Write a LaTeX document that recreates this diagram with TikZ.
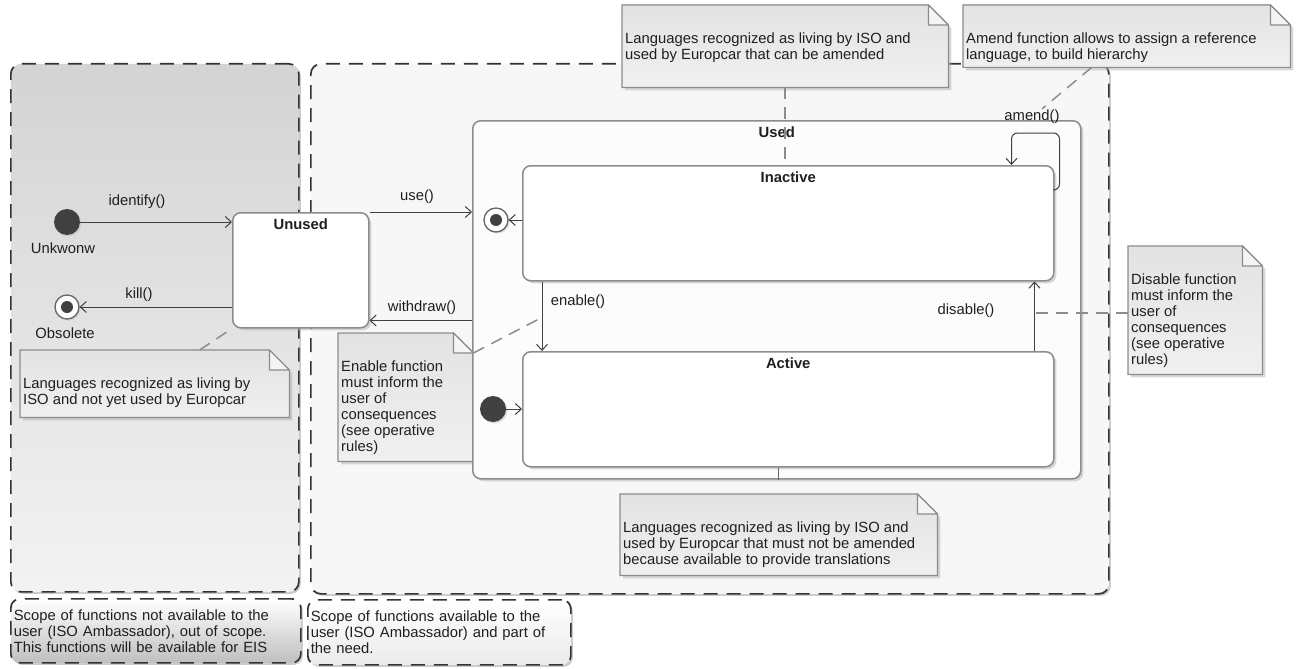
\documentclass[tikz,border=0pt]{standalone}
\usepackage{fontspec}
\setmainfont{Liberation Sans}
\usetikzlibrary{arrows.meta,shadows,calc}
\pgfdeclarelayer{bg}
\pgfdeclarelayer{mid}
\pgfsetlayers{bg,mid,main}
\newcommand\mknote[6]{%
  \node[notebg, minimum width=#4, minimum height=#5] (#1) at (#2,#3) {};
  \begin{pgfonlayer}{mid}
    \filldraw[notefill] (#1.south west) -- (#1.north west) -- ([xshift=-20pt]#1.north east) -- ([yshift=-20pt]#1.north east) -- (#1.south east) -- cycle;
    \filldraw[notefold] ([xshift=-20pt]#1.north east) -- ([xshift=-20pt,yshift=-20pt]#1.north east) -- ([yshift=-20pt]#1.north east) -- cycle;
  \end{pgfonlayer}
  \node[notetext] (#1-t) at ([xshift=3pt,yshift=-28pt]#1.north west) {#6};
}
\begin{document}
\begin{tikzpicture}[x=1pt,y=-1pt,
  font=\fontsize{14.8}{16}\selectfont,
  every node/.style={text=black!88},
  scopebox/.style={rectangle, draw=black!80, line width=1.7pt, dash pattern=on 14pt off 9pt,
    rounded corners=10pt, inner sep=0pt, anchor=north west,
    drop shadow={shadow xshift=2pt, shadow yshift=-2pt, fill=black!40}},
  scopenote/.style={rectangle, draw=black!80, line width=1.7pt, dash pattern=on 14pt off 9pt,
    rounded corners=9pt, inner sep=3pt, anchor=north west, align=left,
    drop shadow={shadow xshift=2pt, shadow yshift=-2pt, fill=black!40}},
  state/.style={rectangle, draw=black!45, line width=1.5pt, fill=white, rounded corners=8pt,
    inner sep=0pt, anchor=north west,
    drop shadow={shadow xshift=2.5pt, shadow yshift=-2.5pt, fill=black!30}},
  title/.style={font=\fontsize{14.8}{16}\selectfont\bfseries, anchor=north, inner sep=4pt, yshift=-3pt},
  initstate/.style={circle, fill=black!75, minimum size=26pt, inner sep=0pt,
    drop shadow={shadow xshift=1.5pt, shadow yshift=-1.5pt, fill=black!25}},
  finalstate/.style={circle, draw=black!60, line width=1.3pt, fill=white, minimum size=24pt, inner sep=0pt,
    path picture={\fill[black!75] (path picture bounding box.center) circle (6pt);},
    drop shadow={shadow xshift=1.5pt, shadow yshift=-1.5pt, fill=black!25}},
  lbl/.style={inner sep=1pt},
  trans/.style={draw=black!75, line width=1pt, -{Straight Barb[length=6pt,width=11pt]}},
  notelink/.style={draw=black!45, line width=1.5pt, dash pattern=on 12pt off 8pt},
  notebg/.style={rectangle, draw=none, inner sep=0pt, anchor=north west},
  notefill/.style={draw=black!45, line width=1.2pt, top color=black!11, bottom color=black!6,
    drop shadow={shadow xshift=3pt, shadow yshift=-3pt, fill=black!30}},
  notefold/.style={draw=black!45, line width=1.2pt, fill=black!4, line join=round},
  notetext/.style={anchor=north west, align=left, inner sep=0pt}
]
\useasboundingbox (0,0) rectangle (1301,669);

% scope regions
\begin{pgfonlayer}{bg}
  \node[scopebox, top color=black!17, bottom color=black!5, minimum width=288pt, minimum height=528pt] (lscope) at (10,63) {};
  \node[scopebox, fill=black!3, minimum width=798pt, minimum height=530pt] (rscope) at (310,63) {};
  \node[scopenote, top color=white, bottom color=black!25, text width=284pt, minimum height=64pt] (lscopenote) at (10,598)
    {Scope of functions not available to the\\user (ISO Ambassador), out of scope.\\This functions will be available for EIS};
  \node[scopenote, top color=white, bottom color=black!8, text width=257pt, minimum height=65pt] (rscopenote) at (307,599)
    {Scope of functions available to the\\user (ISO Ambassador) and part of\\the need.};
\end{pgfonlayer}

% notes
\mknote{ntop}{622}{5}{326pt}{82pt}{Languages recognized as living by ISO and\\used by Europcar that can be amended}
\mknote{namend}{963}{5}{327pt}{62pt}{Amend function allows to assign a reference\\language, to build hierarchy}
\mknote{ndis}{1128}{246}{134pt}{128pt}{Disable function\\must inform the\\user of\\consequences\\(see operative\\rules)}
\mknote{nen}{338}{333}{135pt}{128pt}{Enable function\\must inform the\\user of\\consequences\\(see operative\\rules)}
\mknote{nleft}{20}{350}{269pt}{67pt}{Languages recognized as living by\\ISO and not yet used by Europcar}
\mknote{nbot}{620}{494}{317pt}{81pt}{Languages recognized as living by ISO and\\used by Europcar that must not be amended\\because available to provide translations}

% states
\node[state, fill=black!1, minimum width=608pt, minimum height=358pt, label={[title]north:Used}] (used) at (472,120) {};
\node[state, minimum width=531pt, minimum height=115pt, label={[title]north:Inactive}] (inactive) at (522,165) {};
\node[state, minimum width=531pt, minimum height=115pt, label={[title]north:Active}] (active) at (522,351) {};
\node[state, minimum width=136pt, minimum height=115pt, label={[title]north:Unused}] (unused) at (232,212) {};

% pseudo states
\node[initstate] (init1) at (67,222) {};
\node[finalstate] (final1) at (67,307) {};
\node[finalstate] (final2) at (496,220) {};
\node[initstate] (init2) at (493,409) {};

% labels
\node[lbl] (lunk) at (63,248) {Unkwonw};
\node[lbl] (lobs) at (65,333) {Obsolete};
\node[lbl] (lident) at (137,202) {identify()};
\node[lbl] (lkill) at (139,295) {kill()};
\node[lbl] (luse) at (417,197) {use()};
\node[lbl] (lwith) at (422,308) {withdraw()};
\node[lbl] (lenable) at (578,302) {enable()};
\node[lbl] (ldisable) at (966,311) {disable()};
\node[lbl] (lamend) at (1032,117) {amend()};

% transitions
\draw[trans] (init1.east) -- (init1.east -| unused.west);
\draw[trans] (final1 -| unused.west) -- (final1.east);
\draw[trans] (unused.north east) -- (unused.north east -| used.west);
\draw[trans] ([yshift=8pt]unused.south east -| used.west) -- ([yshift=8pt]unused.south east);
\draw[trans] (final2 -| inactive.west) -- (final2.east);
\draw[trans] (init2.east) -- (init2 -| active.west);
\draw[trans] ([xshift=20pt]inactive.south west) -- ([xshift=20pt]active.north west);
\draw[trans] ([xshift=-20pt]active.north east) -- ([xshift=-20pt]inactive.south east);
\draw[trans, rounded corners=6pt] ([yshift=-25pt]inactive.north east) -- ++(5,0) -- ++(0,-57) -- ++(-48,0) -- ([xshift=-43pt]inactive.north east);

% note links
\coordinate (discoord) at ([xshift=-20pt]active.north east);
\coordinate (encoord) at ([xshift=16pt,yshift=-38pt]inactive.south west);
\draw[notelink] (ntop.south) -- (ntop.south |- inactive.north);
\draw[notelink] ([xshift=-35pt]namend.south) -- ([xshift=10pt]lamend.north);
\draw[notelink] ([yshift=-3pt]ndis.west) -- ([yshift=-3pt]ndis.west -| discoord);
\draw[notelink] ([yshift=-20pt]nen.north east) -- (encoord);
\draw[notelink] ([xshift=45pt]nleft.north) -- (unused.south west);
\draw[black!60, line width=1pt] (active.south -| nbot.north) -- (used.south -| nbot.north);
\end{tikzpicture}
\end{document}
